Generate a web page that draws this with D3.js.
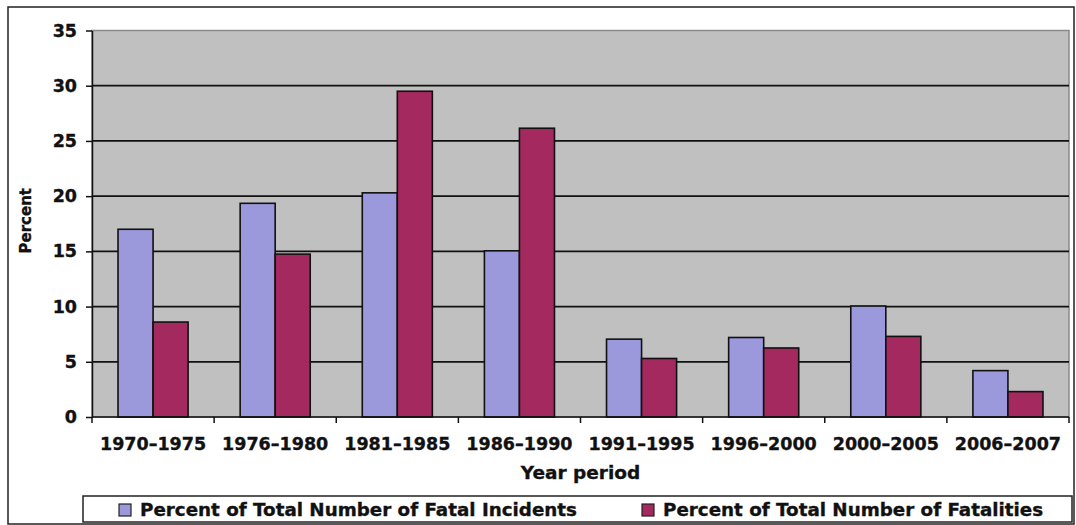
<!DOCTYPE html>
<html>
<head>
<meta charset="utf-8">
<script src="https://cdn.jsdelivr.net/npm/d3@7"></script>
<style>
  html, body { margin: 0; padding: 0; background: #fff; }
  svg { display: block; }
  text { font-family: "DejaVu Sans", Verdana, sans-serif; font-weight: bold; fill: #111; stroke: #111; stroke-width: 0.35px; }
</style>
</head>
<body>
<svg id="chart" width="1076" height="525"></svg>
<script>
// Year periods and the two percentage series
const periods = ["1970–1975", "1976–1980", "1981–1985", "1986–1990", "1991–1995", "1996–2000", "2000–2005", "2006–2007"];
const fatalIncidents = [17.0, 19.35, 20.3, 15.05, 7.05, 7.2, 10.05, 4.2];
const fatalities = [8.6, 14.75, 29.5, 26.15, 5.3, 6.25, 7.3, 2.3];
const seriesNames = ["Percent of Total Number of Fatal Incidents", "Percent of Total Number of Fatalities"];
const yTicks = [0, 5, 10, 15, 20, 25, 30, 35];

const seriesColors = ["#9b99dc", "#a3295f"];

const svg = d3.select("#chart");

// outer chart frame
svg.append("rect")
  .attr("x", 8).attr("y", 7).attr("width", 1066).attr("height", 517)
  .attr("fill", "#fff").attr("stroke", "#222").attr("stroke-width", 1.5);

const plot = { left: 92, right: 1069, top: 30.5, bottom: 417 };

const x = d3.scaleBand().domain(periods).range([plot.left, plot.right]).padding(0);
const xInner = d3.scaleBand().domain([0, 1]).range([0, x.bandwidth()])
  .paddingInner(0).paddingOuter(0.743);
const y = d3.scaleLinear().domain([0, 35]).range([plot.bottom, plot.top]);

// plot area
svg.append("rect")
  .attr("x", plot.left).attr("y", plot.top)
  .attr("width", plot.right - plot.left).attr("height", plot.bottom - plot.top)
  .attr("fill", "#c0c0c0").attr("stroke", "#8a8a8a").attr("stroke-width", 1.5);

// horizontal gridlines
svg.append("g")
  .selectAll("line")
  .data(yTicks.filter(t => t > 0 && t < 35))
  .join("line")
  .attr("x1", plot.left).attr("x2", plot.right)
  .attr("y1", d => y(d)).attr("y2", d => y(d))
  .attr("stroke", "#111").attr("stroke-width", 1.7);

// bars
const rows = periods.map((p, i) => ({ period: p, values: [fatalIncidents[i], fatalities[i]] }));
const groups = svg.append("g").selectAll("g")
  .data(rows)
  .join("g")
  .attr("transform", d => `translate(${x(d.period)},0)`);

groups.selectAll("rect")
  .data(d => d.values.map((v, k) => ({ k, v })))
  .join("rect")
  .attr("x", d => xInner(d.k))
  .attr("width", xInner.bandwidth())
  .attr("y", d => y(d.v))
  .attr("height", d => y(0) - y(d.v))
  .attr("fill", d => seriesColors[d.k])
  .attr("stroke", "#111").attr("stroke-width", 1.6);

// y axis
const yAxis = svg.append("g")
  .attr("transform", `translate(${plot.left},0)`)
  .call(d3.axisLeft(y).tickValues(yTicks).tickSize(6).tickPadding(9).tickSizeOuter(0));
yAxis.select(".domain").attr("stroke", "#111").attr("stroke-width", 1.5);
yAxis.selectAll(".tick line").attr("stroke", "#111").attr("stroke-width", 1.5);
yAxis.selectAll(".tick text")
  .attr("font-size", 17.5).attr("font-family", "DejaVu Sans, sans-serif").attr("font-weight", "bold").attr("fill", "#111");

// x axis: ticks at category boundaries
const boundaries = periods.map(p => x(p)).concat([plot.right]);
const xAxis = svg.append("g").attr("transform", `translate(0,${plot.bottom})`);
xAxis.append("line")
  .attr("x1", plot.left).attr("x2", plot.right)
  .attr("stroke", "#111").attr("stroke-width", 1.5);
xAxis.selectAll("line.tk")
  .data(boundaries)
  .join("line").attr("class", "tk")
  .attr("x1", d => d).attr("x2", d => d).attr("y1", 0).attr("y2", 6)
  .attr("stroke", "#111").attr("stroke-width", 1.5);
xAxis.selectAll("text")
  .data(periods)
  .join("text")
  .attr("x", d => x(d) + x.bandwidth() / 2)
  .attr("y", 33)
  .attr("text-anchor", "middle")
  .attr("font-size", 17.5)
  .text(d => d);

// axis titles
svg.append("text")
  .attr("x", (plot.left + plot.right) / 2).attr("y", 479)
  .attr("text-anchor", "middle").attr("font-size", 18.5)
  .text("Year period");

svg.append("text")
  .attr("transform", `translate(31,${(plot.top + plot.bottom) / 2 - 3}) rotate(-90)`)
  .attr("text-anchor", "middle").attr("font-size", 15)
  .text("Percent");

// legend
const legend = svg.append("g");
legend.append("rect")
  .attr("x", 83).attr("y", 496).attr("width", 989).attr("height", 26)
  .attr("fill", "#fff").attr("stroke", "#222").attr("stroke-width", 1.5);

const legendX = [119, 642];
const items = legend.selectAll("g.item")
  .data(seriesNames)
  .join("g").attr("class", "item")
  .attr("transform", (d, i) => `translate(${legendX[i]},502)`);
items.append("rect")
  .attr("x", 0).attr("y", 2).attr("width", 12).attr("height", 12)
  .attr("fill", (d, i) => seriesColors[i]).attr("stroke", "#222").attr("stroke-width", 1.2);
items.append("text")
  .attr("x", 21).attr("y", 14)
  .attr("font-size", 18.3)
  .text(d => d);
</script>
</body>
</html>
